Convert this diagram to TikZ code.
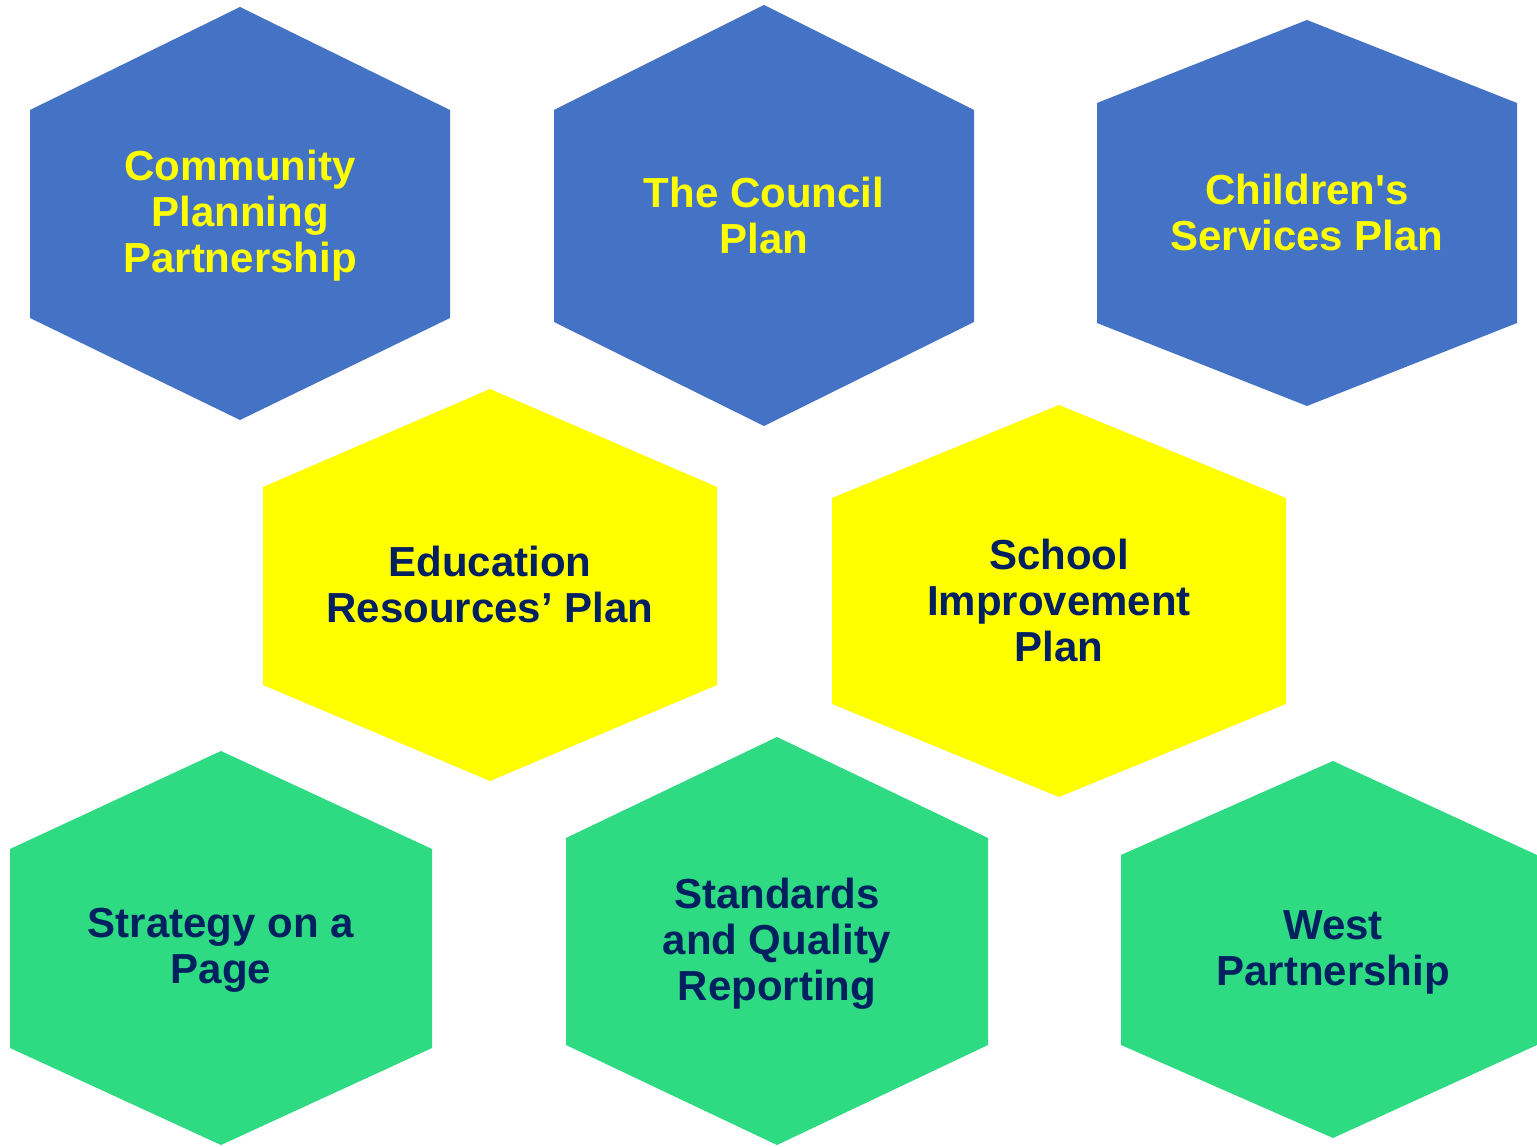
\documentclass[tikz,border=0pt]{standalone}
\usepackage{fontspec}
\setmainfont{Liberation Sans}
\definecolor{hexblue}{HTML}{4472C4}
\definecolor{hexyellow}{HTML}{FFFF00}
\definecolor{hexgreen}{HTML}{2EDA82}
\definecolor{navy}{HTML}{002060}
\newcommand{\straightquote}{\XeTeXglyph\XeTeXglyphindex "quotesingle"\relax}
\tikzset{
  lbl/.style={align=center,font=\bfseries\fontsize{42}{46}\selectfont,inner sep=0pt},
  onblue/.style={lbl,text=hexyellow},
  ondark/.style={lbl,text=navy}
}
% cx, xl, xr, top, s1, s2, bottom, colour
\newcommand{\hexshape}[8]{\fill[#8] (#1,#4) -- (#3,#5) -- (#3,#6) -- (#1,#7) -- (#2,#6) -- (#2,#5) -- cycle;}
\begin{document}
\begin{tikzpicture}[x=1pt,y=-1pt]
\useasboundingbox (0,0) rectangle (1537,1147);
\hexshape{240}{30}{450}{7}{110}{318}{420}{hexblue}
\hexshape{764}{554}{974}{5}{110}{322}{426}{hexblue}
\hexshape{1307}{1097}{1517}{20}{103}{323}{406}{hexblue}
\hexshape{490}{263}{717}{389}{487}{685}{781}{hexyellow}
\hexshape{1059}{832}{1286}{405}{498}{704}{797}{hexyellow}
\hexshape{221}{10}{432}{751}{849}{1048}{1145}{hexgreen}
\hexshape{777}{566}{988}{737}{838}{1045}{1145}{hexgreen}
\hexshape{1333}{1121}{1537}{761}{855}{1045}{1138}{hexgreen}
\node[onblue] (cpp) at (240,216) {Community\\Planning\\Partnership};
\node[onblue] (tcp) at (764,215) {The Council\\Plan};
\node[onblue] (csp) at (1307,212) {Children\straightquote s\\Services Plan};
\node[ondark] (erp) at (490,584) {Education\\Resources’ Plan};
\node[ondark] (sip) at (1059,600) {School\\Improvement\\Plan};
\node[ondark] (sop) at (221,950) {Strategy on a\\Page};
\node[ondark] (sqr) at (777,944) {Standards\\and Quality\\Reporting};
\node[ondark] (wp) at (1333,952) {West\\Partnership};
\end{tikzpicture}
\end{document}
